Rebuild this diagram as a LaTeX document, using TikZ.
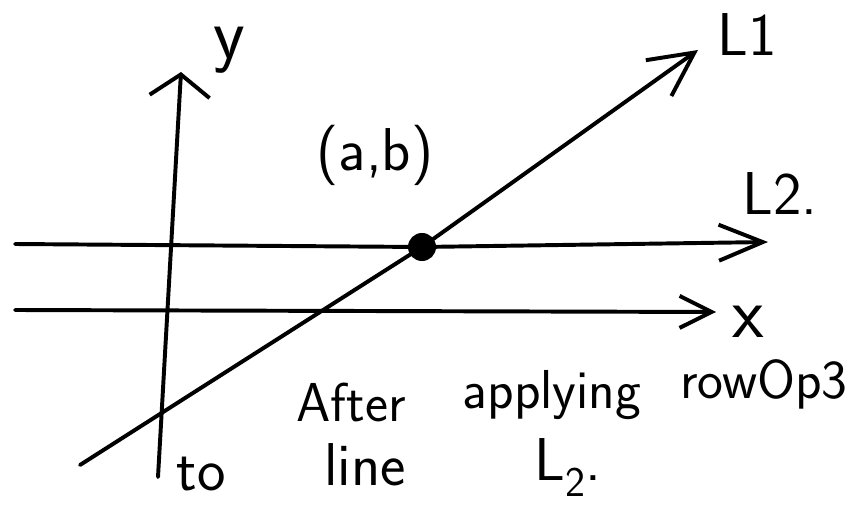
\documentclass[tikz,border=0pt]{standalone}
\usepackage{fontspec}
\usetikzlibrary{arrows.meta}
\tikzset{
	pen/.style   ={line width=2.8pt, line cap=round, line join=round},
	hand/.style  ={font=\sffamily\fontsize{39}{44}\selectfont, inner sep=0pt},
	handbig/.style={font=\sffamily\fontsize{43}{50}\selectfont, inner sep=0pt},
	axlab/.style ={font=\sffamily\fontsize{52}{60}\selectfont, inner sep=0pt},
	dot/.style   ={circle, fill=black, minimum size=0.7cm, inner sep=0pt},
}
\begin{document}
\begin{tikzpicture}[x=0.025cm, y=-0.025cm]
	\useasboundingbox (0,0) rectangle (848,505);
	% end points of the axes and lines
	\coordinate (yS) at (158,477);
	\coordinate (yE) at (181,72);
	\coordinate (xS) at (15,310);
	\coordinate (xE) at (716,312);
	\coordinate (lineTwoS) at (15,244);
	\coordinate (lineTwoE) at (768,242);
	\coordinate (lineOneS) at (80,465);
	\coordinate (lineOneE) at (698,50);
	\coordinate (ab) at (422,247);
	% axes
	\draw[pen, -{Straight Barb[length=0.55cm, width=1.5cm]}] (yS) -- (yE);
	\draw[pen, -{Straight Barb[length=0.8cm, width=0.8cm]}] (xS) -- (xE);
	% the two lines
	\draw[pen, -{Straight Barb[length=1.1cm, width=0.9cm]}] (lineTwoS) -- (ab) -- (lineTwoE);
	\draw[pen, -{Straight Barb[length=1.1cm, width=1.1cm]}] (lineOneS) -- (ab) -- (lineOneE);
	\node[dot] (abdot) at (ab) {};
	% labels
	\node[axlab] (ylab) at (229,50) {y};
	\node[axlab] (xlab) at (748,322) {x};
	\node[handbig] (lineOneLab) at (747,35) {L1};
	\node[handbig] (lineTwoLab) at (780,194) {L2.};
	\node[handbig] (ablab) at (375,155) {(a,b)};
	% note
	\node[hand, anchor=base] (wAfter) at (351,421) {After};
	\node[hand, anchor=base] (wApply) at (552,408) {applying};
	\node[hand, anchor=base] (wRowOp) at (764,398) {rowOp3};
	\node[handbig, anchor=base] (wTo) at (201,490) {to};
	\node[handbig, anchor=base] (wLine) at (365,485) {line};
	\node[handbig, anchor=base] (wLtwo) at (568,480) {L\textsubscript{2}.};
\end{tikzpicture}
\end{document}
